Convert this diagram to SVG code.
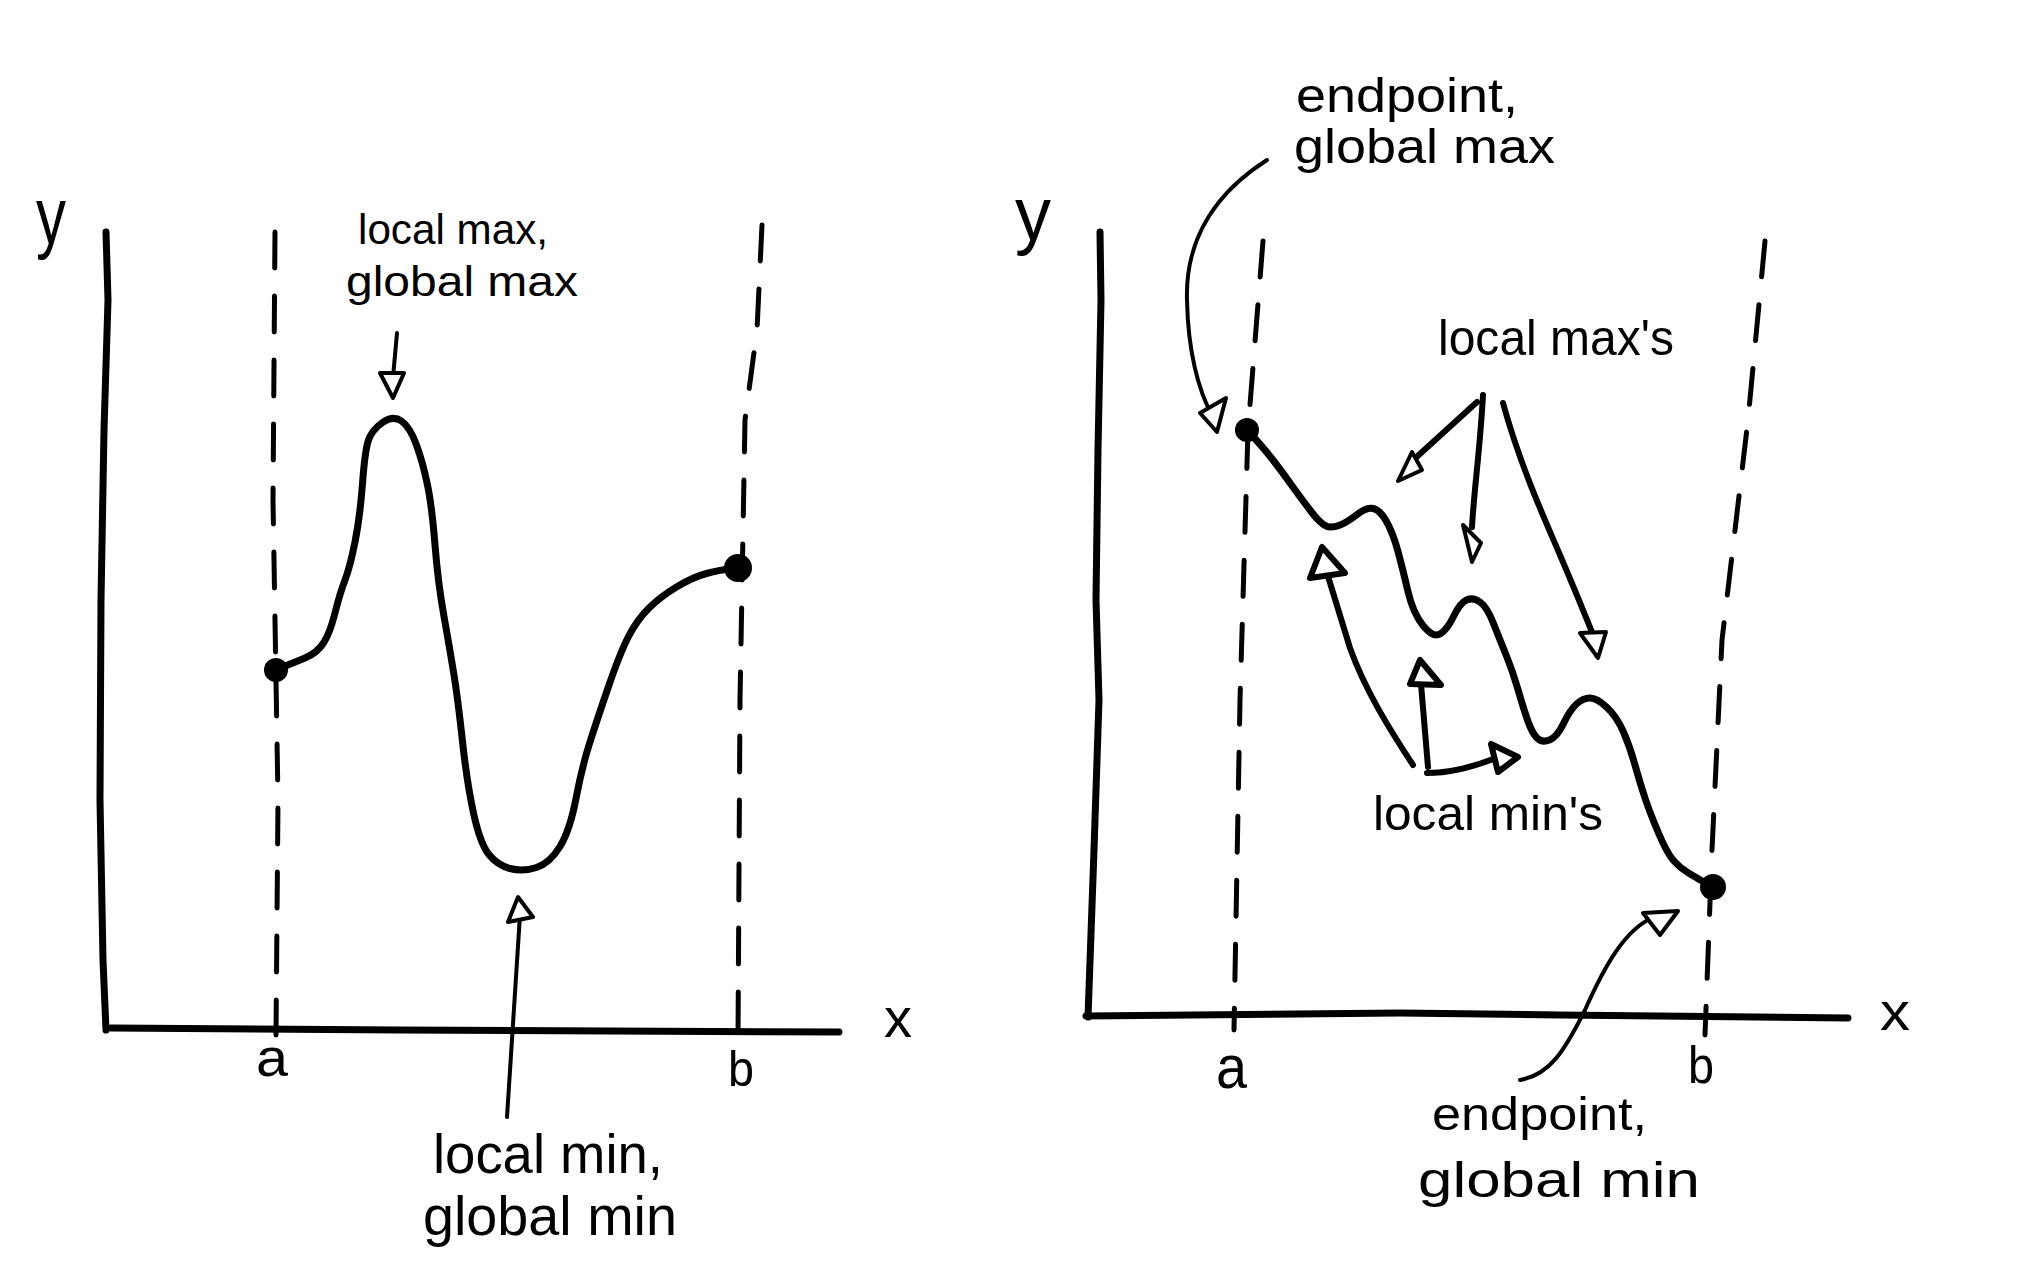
<svg xmlns="http://www.w3.org/2000/svg" width="2040" height="1264" viewBox="0 0 2040 1264">
<style>
.ax{fill:none;stroke:#000;stroke-width:7;stroke-linecap:round;stroke-linejoin:round}
.dash{fill:none;stroke:#000;stroke-width:5;stroke-dasharray:36 28;stroke-linecap:round}
.crv{fill:none;stroke:#000;stroke-width:7;stroke-linecap:round;stroke-linejoin:round}
.arr{fill:none;stroke:#000;stroke-width:4;stroke-linecap:round;stroke-linejoin:round}
.arrb{fill:none;stroke:#000;stroke-width:6;stroke-linecap:round;stroke-linejoin:round}
.head{fill:#fff;stroke:#000;stroke-width:4;stroke-linejoin:round}
.headb{fill:#fff;stroke:#000;stroke-width:6;stroke-linejoin:round}
.t{font-family:"Liberation Sans","DejaVu Sans",sans-serif;fill:#000}
</style>
<rect width="2040" height="1264" fill="#fff"/>

<g id="left-axes">
<path class="ax" d="M106,232 L108,300 L104,430 L101,600 L100,800 L103,960 L106,1030"/>
<path class="ax" d="M111,1028 L400,1030 L839,1032"/>
<path class="dash" d="M275,232 L273,500 L278,800 L276,1035"/>
<path class="dash" d="M762,225 L757,330 L745,420 L740,700 L738,1040"/>
<text class="t" x="36" y="243" font-size="80" textLength="30" lengthAdjust="spacingAndGlyphs">y</text>
<text class="t" x="884" y="1037" font-size="56" textLength="28" lengthAdjust="spacingAndGlyphs">x</text>
<text class="t" x="256" y="1076" font-size="54" textLength="32" lengthAdjust="spacingAndGlyphs">a</text>
<text class="t" x="728" y="1086" font-size="50" textLength="26" lengthAdjust="spacingAndGlyphs">b</text>
</g>

<g id="left-curve">
<path class="crv" d="M275,670 Q293,663 305,658 Q317,653 323.5,643 Q330,633 335,613 Q340,593 345,580 Q350,567 355,542 Q360,517 362.5,483.5 Q365,450 368.5,440 Q372,430 382.5,422.5 Q393,415 401.5,421 Q410,427 416.5,445 Q423,463 427.5,485 Q432,507 435,545 Q438,583 444,616.5 Q450,650 454,675 Q458,700 462.5,741.5 Q467,783 473.5,813 Q480,843 488.5,854 Q497,865 510,868.5 Q523,872 536.5,867.5 Q550,863 560,846.5 Q570,830 576,798.5 Q582,767 589.5,743.5 Q597,720 608.5,686.5 Q620,653 628.5,636.5 Q637,620 648.5,608.5 Q660,597 676.5,587 Q693,577 706.5,573.5 Q720,570 728.5,569 L737,568"/>
<circle cx="276" cy="670" r="12"/>
<circle cx="738" cy="568" r="14"/>
</g>

<g id="left-labels">
<text class="t" x="358" y="244" font-size="42" textLength="190" lengthAdjust="spacingAndGlyphs">local max,</text>
<text class="t" x="346" y="296" font-size="42" textLength="232" lengthAdjust="spacingAndGlyphs">global max</text>
<text class="t" x="433" y="1173" font-size="56" textLength="230" lengthAdjust="spacingAndGlyphs">local min,</text>
<text class="t" x="423" y="1235" font-size="56" textLength="254" lengthAdjust="spacingAndGlyphs">global min</text>
</g>

<g id="right-axes">
<path class="ax" d="M1100,232 L1101,300 L1098,450 L1096,600 L1099,700 L1094,850 L1088,1017"/>
<path class="ax" d="M1086,1016 L1400,1013 L1560,1015 L1848,1018"/>
<path class="dash" d="M1263,241 L1248,430 L1240,700 L1234,1030"/>
<path class="dash" d="M1765,241 L1748,420 L1722,640 L1712,850 L1705,1035"/>
<text class="t" x="1015" y="240" font-size="76" textLength="36" lengthAdjust="spacingAndGlyphs">y</text>
<text class="t" x="1880" y="1030" font-size="54" textLength="30" lengthAdjust="spacingAndGlyphs">x</text>
<text class="t" x="1216" y="1088" font-size="62" textLength="31" lengthAdjust="spacingAndGlyphs">a</text>
<text class="t" x="1688" y="1083" font-size="52" textLength="26" lengthAdjust="spacingAndGlyphs">b</text>
</g>

<g id="right-curve">
<path class="crv" stroke-width="6" d="M1247,430 Q1263,447 1273,460 Q1283,473 1291.5,485 Q1300,497 1311.5,512 Q1323,527 1330,527 Q1337,527 1343.5,523.5 Q1350,520 1358.5,513.5 Q1367,507 1373.5,508.5 Q1380,510 1386.5,521.5 Q1393,533 1398,551.5 Q1403,570 1408,591.5 Q1413,613 1423,625.5 Q1433,638 1440,634 Q1447,630 1453.5,616.5 Q1460,603 1466.5,600 Q1473,597 1480,602 Q1487,607 1493.5,623.5 Q1500,640 1506.5,656 Q1513,672 1518,689.5 Q1523,707 1527.5,720 Q1532,733 1537,738 Q1542,743 1549.5,740 Q1557,737 1563.5,723.5 Q1570,710 1576.5,704 Q1583,698 1590,698 Q1597,698 1607,707.5 Q1617,717 1623.5,732 Q1630,747 1635,765 Q1640,783 1645,798 Q1650,813 1658.5,833 Q1667,853 1673.5,860.5 Q1680,868 1688.5,873 Q1697,878 1704.5,882.5 L1712,887"/>
<circle cx="1247" cy="430" r="12"/>
<circle cx="1713" cy="887" r="13"/>
</g>

<g id="right-labels">
<text class="t" x="1296" y="112" font-size="48" textLength="222" lengthAdjust="spacingAndGlyphs">endpoint,</text>
<text class="t" x="1294" y="163" font-size="48" textLength="261" lengthAdjust="spacingAndGlyphs">global max</text>
<text class="t" x="1438" y="355" font-size="50" textLength="236" lengthAdjust="spacingAndGlyphs">local max's</text>
<text class="t" x="1373" y="830" font-size="48" textLength="230" lengthAdjust="spacingAndGlyphs">local min's</text>
<text class="t" x="1432" y="1130" font-size="46" textLength="215" lengthAdjust="spacingAndGlyphs">endpoint,</text>
<text class="t" x="1418" y="1197" font-size="50" textLength="282" lengthAdjust="spacingAndGlyphs">global min</text>
</g>

<g id="connectors">
<path class="arr" d="M397,333 L393,377"/>
<polygon class="head" points="380,373 404,373 393,398"/>
<path class="arr" d="M507,1117 L520,915"/>
<polygon class="head" points="518,897 508,922 533,917"/>
<path class="arr" d="M1267,160 C1220,190 1185,235 1187,300 C1188,350 1198,390 1212,415"/>
<polygon class="head" points="1200,413 1226,398 1217,432"/>
<path class="arr" d="M1520,1080 C1550,1075 1565,1050 1585,1010 C1605,965 1625,930 1652,918"/>
<polygon class="head" points="1643,913 1678,911 1660,935"/>
<path class="arrb" d="M1477,402 L1410,463"/>
<polygon class="head" points="1398,481 1412,452 1422,470"/>
<path class="arrb" d="M1483,395 C1480,450 1474,490 1472,527"/>
<polygon class="head" points="1463,525 1481,543 1472,562"/>
<path class="arrb" d="M1503,403 C1520,465 1545,520 1560,555 C1575,590 1585,615 1592,632"/>
<polygon class="head" points="1580,633 1606,632 1598,658"/>
<path class="arrb" d="M1413,765 C1390,730 1365,690 1350,648 C1340,615 1332,590 1327,573"/>
<polygon class="headb" points="1322,547 1310,578 1345,573"/>
<path class="arrb" d="M1428,767 L1421,684"/>
<polygon class="headb" points="1420,660 1410,684 1441,685"/>
<path class="arrb" d="M1427,773 C1450,773 1475,766 1493,759"/>
<polygon class="headb" points="1518,757 1491,744 1498,772"/>
</g>
</svg>
